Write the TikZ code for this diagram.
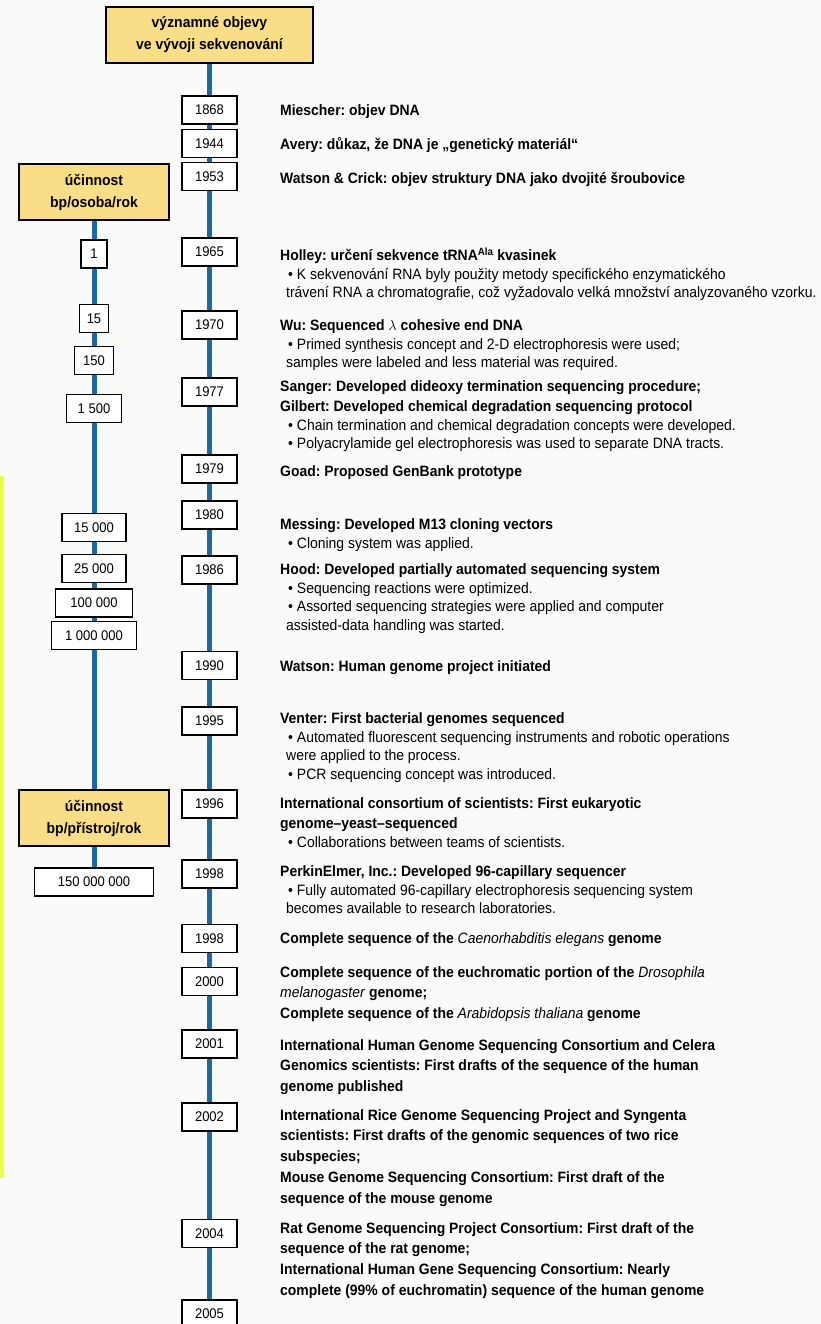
\documentclass[tikz,border=0pt]{standalone}
\usepackage{fontspec}
\setmainfont[FakeStretch=0.93]{Liberation Sans}
\usetikzlibrary{positioning}
\frenchspacing

\definecolor{lineblue}{RGB}{28,104,160}
\definecolor{headyellow}{RGB}{250,221,135}
\definecolor{scanyellow}{RGB}{232,255,80}
\definecolor{paper}{RGB}{250,250,249}

\newcommand{\bul}{\hspace*{8pt}\textbullet\ }
\newcommand{\ctn}{\hspace*{6pt}}
\newcommand{\spec}[1]{\textit{\mdseries #1}}

\begin{document}
\begin{tikzpicture}[x=1pt,y=-1pt,
    yr/.style={draw,line width=1.5pt,fill=white,minimum width=55pt,minimum height=28pt,
      inner sep=0pt,font=\fontsize{14}{16}\selectfont},
    val/.style={yr,minimum width=#1},
    head/.style={draw,line width=2pt,fill=headyellow,align=center,inner sep=0pt,
      minimum height=56pt,font=\bfseries\fontsize{15}{22}\selectfont},
    evt/.style={anchor=north west,align=left,inner sep=0pt,font=\fontsize{15}{20}\selectfont},
    ttl/.style={evt,font=\bfseries\fontsize{15}{20.7}\selectfont},
    spine/.style={lineblue,line width=5pt}]
  \fill[paper] (0,0) rectangle (821,1324);
  \useasboundingbox (0,0) rectangle (821,1324);
  \fill[scanyellow] (0,476) rectangle (4,1178);

  % headers
  \node[head,minimum width=207pt] (top) at (209.5,35) {významné objevy\\ve vývoji sekvenování};
  \node[head,minimum width=150pt] (hos) at (94,192) {účinnost\\bp/osoba/rok};
  \node[head,minimum width=150pt] (hpr) at (94,818) {účinnost\\bp/přístroj/rok};

  % years
  \node[yr] (y1868) at (209.5,110) {1868};
  \node[yr] (y1944) at (209.5,143.5) {1944};
  \node[yr] (y1953) at (209.5,176.5) {1953};
  \node[yr] (y1965) at (209.5,252) {1965};
  \node[yr] (y1970) at (209.5,325) {1970};
  \node[yr] (y1977) at (209.5,392) {1977};
  \node[yr] (y1979) at (209.5,469) {1979};
  \node[yr] (y1980) at (209.5,515) {1980};
  \node[yr] (y1986) at (209.5,570) {1986};
  \node[yr] (y1990) at (209.5,665.5) {1990};
  \node[yr] (y1995) at (209.5,721) {1995};
  \node[yr] (y1996) at (209.5,804) {1996};
  \node[yr] (y1998a) at (209.5,874) {1998};
  \node[yr] (y1998b) at (209.5,938.5) {1998};
  \node[yr] (y2000) at (209.5,981.5) {2000};
  \node[yr] (y2001) at (209.5,1044) {2001};
  \node[yr] (y2002) at (209.5,1117) {2002};
  \node[yr] (y2004) at (209.5,1233.5) {2004};
  \node[yr] (y2005) at (209.5,1314) {2005};

  % efficiency values
  \node[val=26pt] (e1) at (94,254) {1};
  \node[val=29pt] (e15) at (94,318.5) {15};
  \node[val=39pt] (e150) at (94,360.5) {150};
  \node[val=55pt] (e1500) at (94,408.5) {1~500};
  \node[val=64pt] (e15k) at (94,527.5) {15~000};
  \node[val=64pt] (e25k) at (94,568.5) {25~000};
  \node[val=77pt] (e100k) at (94,603) {100~000};
  \node[val=85pt] (e1M) at (94,635.5) {1~000~000};
  \node[val=119pt] (e150M) at (94,882) {150~000~000};

  % timelines
  \foreach \a/\b in {top/y1868,y1868/y1944,y1944/y1953,y1953/y1965,y1965/y1970,
      y1970/y1977,y1977/y1979,y1979/y1980,y1980/y1986,y1986/y1990,y1990/y1995,
      y1995/y1996,y1996/y1998a,y1998a/y1998b,y1998b/y2000,y2000/y2001,
      y2001/y2002,y2002/y2004,y2004/y2005}
    \draw[spine] (\a) -- (\b);
  \foreach \a/\b in {hos/e1,e1/e15,e15/e150,e150/e1500,e1500/e15k,e15k/e25k,
      e25k/e100k,e100k/e1M,e1M/hpr,hpr/e150M}
    \draw[spine] (\a) -- (\b);

  % events
  \node[ttl] (t1868) at (280,100.5) {\strut Miescher: objev DNA};
  \node[ttl] (t1944) at (280,134.5) {\strut Avery: důkaz, že DNA je „genetický materiál“};
  \node[ttl] (t1953) at (280,168.5) {\strut Watson \& Crick: objev struktury DNA jako dvojité šroubovice};
  \node[evt] (t1965) at (280,246.5) {\strut\textbf{Holley: určení sekvence tRNA\textsuperscript{Ala} kvasinek}\\[-1.5pt]
    \bul K sekvenování RNA byly použity metody specifického enzymatického\\[-1.5pt]
    \ctn trávení RNA a chromatografie, což vyžadovalo velká množství analyzovaného vzorku.};
  \node[evt] (t1970) at (280,316.5) {\strut\textbf{Wu: Sequenced $\lambda$ cohesive end DNA}\\[-1.5pt]
    \bul Primed synthesis concept and 2-D electrophoresis were used;\\[-1.5pt]
    \ctn samples were labeled and less material was required.};
  \node[evt] (t1977) at (280,377.5) {\strut\textbf{Sanger: Developed dideoxy termination sequencing procedure;}\\
    \textbf{Gilbert: Developed chemical degradation sequencing protocol}\\[-1.5pt]
    \bul Chain termination and chemical degradation concepts were developed.\\[-1.5pt]
    \bul Polyacrylamide gel electrophoresis was used to separate DNA tracts.};
  \node[ttl] (t1979) at (280,461.5) {\strut Goad: Proposed GenBank prototype};
  \node[evt] (t1980) at (280,515.5) {\strut\textbf{Messing: Developed M13 cloning vectors}\\[-1.5pt]
    \bul Cloning system was applied.};
  \node[evt] (t1986) at (280,560.5) {\strut\textbf{Hood: Developed partially automated sequencing system}\\[-1.5pt]
    \bul Sequencing reactions were optimized.\\[-1.5pt]
    \bul Assorted sequencing strategies were applied and computer\\[-1.5pt]
    \ctn assisted-data handling was started.};
  \node[ttl] (t1990) at (280,656.5) {\strut Watson: Human genome project initiated};
  \node[evt] (t1995) at (280,709.5) {\strut\textbf{Venter: First bacterial genomes sequenced}\\[-1.5pt]
    \bul Automated fluorescent sequencing instruments and robotic operations\\[-1.5pt]
    \ctn were applied to the process.\\[-1.5pt]
    \bul PCR sequencing concept was introduced.};
  \node[evt] (t1996) at (280,794.5) {\strut\textbf{International consortium of scientists: First eukaryotic}\\
    \textbf{genome–yeast–sequenced}\\[-1.5pt]
    \bul Collaborations between teams of scientists.};
  \node[evt] (t1998a) at (280,862.5) {\strut\textbf{PerkinElmer, Inc.: Developed 96-capillary sequencer}\\[-1.5pt]
    \bul Fully automated 96-capillary electrophoresis sequencing system\\[-1.5pt]
    \ctn becomes available to research laboratories.};
  \node[ttl] (t1998b) at (280,928.5) {\strut Complete sequence of the \spec{Caenorhabditis elegans} genome};
  \node[ttl] (t2000) at (280,962.5) {\strut Complete sequence of the euchromatic portion of the \spec{Drosophila}\\
    \spec{melanogaster} genome;\\
    Complete sequence of the \spec{Arabidopsis thaliana} genome};
  \node[ttl] (t2001) at (280,1035.5) {\strut International Human Genome Sequencing Consortium and Celera\\
    Genomics scientists: First drafts of the sequence of the human\\
    genome published};
  \node[ttl] (t2002) at (280,1105.5) {\strut International Rice Genome Sequencing Project and Syngenta\\
    scientists: First drafts of the genomic sequences of two rice\\
    subspecies;\\
    Mouse Genome Sequencing Consortium: First draft of the\\
    sequence of the mouse genome};
  \node[ttl] (t2004) at (280,1218.5) {\strut Rat Genome Sequencing Project Consortium: First draft of the\\
    sequence of the rat genome;\\
    International Human Gene Sequencing Consortium: Nearly\\
    complete (99\% of euchromatin) sequence of the human genome};
\end{tikzpicture}
\end{document}
